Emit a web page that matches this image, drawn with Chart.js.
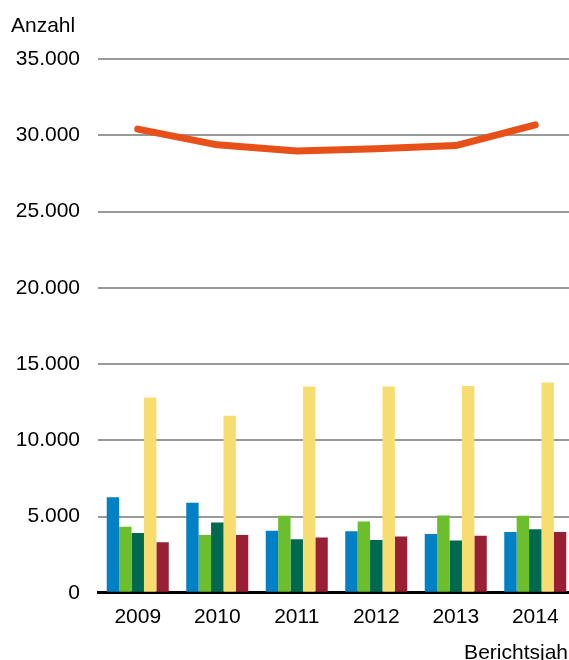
<!DOCTYPE html>
<html>
<head>
<meta charset="utf-8">
<script src="https://cdn.jsdelivr.net/npm/chart.js@4/dist/chart.umd.min.js"></script>
<style>
html,body{margin:0;padding:0;overflow:hidden;background:#fff;}
#wrap{position:relative;width:580px;height:664px;}
#ytitle{position:absolute;left:11px;top:12px;font:21px 'Liberation Sans',Arial,sans-serif;color:#000;line-height:25px;}
</style>
</head>
<body>
<div id="wrap"><canvas id="c" width="580" height="664"></canvas><div id="ytitle">Anzahl</div></div>
<script>
const years = ['2009','2010','2011','2012','2013','2014'];
const seriesBlue = [6270, 5900, 4060, 4035, 3860, 3990];
const seriesGreen = [4320, 3795, 5045, 4670, 5065, 5045];
const seriesDarkGreen = [3925, 4605, 3510, 3465, 3420, 4170];
const seriesYellow = [12810, 11600, 13530, 13530, 13550, 13795];
const seriesRed = [3310, 3795, 3620, 3685, 3730, 3990];
const seriesTotal = [30400, 29370, 28970, 29110, 29320, 30680];
const yTicks = [0, 5000, 10000, 15000, 20000, 25000, 30000, 35000];

const FONT = "'Liberation Sans', Arial, sans-serif";
const fmt = v => v === 0 ? '0' : v.toLocaleString('de-DE');

function bar(data, color){
  return {type:'bar', data, backgroundColor:color, borderWidth:0, order:1,
    barPercentage:1, categoryPercentage:0.78};
}

new Chart(document.getElementById('c'), {
  data: {
    labels: years,
    datasets: [
      {type:'line', data: seriesTotal, borderColor:'#E8501A', borderWidth:7,
       pointRadius:0, tension:0, borderCapStyle:'round', borderJoinStyle:'round', order:0, fill:false},
      bar(seriesBlue, '#0081C6'),
      bar(seriesGreen, '#6DBE2C'),
      bar(seriesDarkGreen, '#006A50'),
      bar(seriesYellow, '#F7DD70'),
      bar(seriesRed, '#991F35')
    ]
  },
  options: {
    responsive:false,
    animation:false,
    layout:{padding:{left:0, right:5, top:59, bottom:0}},
    plugins:{
      legend:{display:false},
      tooltip:{enabled:false},
      title:{display:false}
    },
    scales:{
      x:{
        offset:true,
        grid:{display:false, drawTicks:false},
        border:{display:true, color:'#000', width:3},
        ticks:{color:'#000', font:{family:FONT, size:21}, padding:12, maxRotation:0},
        title:{display:true, text:'Berichtsjahr', align:'end', color:'#000',
          font:{family:FONT, size:21, lineHeight:1.05}, padding:{top:0,bottom:0}}
      },
      y:{
        min:0, max:35000,
        afterBuildTicks: axis => { axis.ticks = yTicks.map(v => ({value:v})); },
        afterFit: s => { s.width = 98; },
        grid:{color:'#999', lineWidth:2, drawTicks:false},
        border:{display:false},
        ticks:{color:'#000', font:{family:FONT, size:21}, padding:18, callback: v => fmt(v)}
      }
    }
  }
});
</script>
</body>
</html>
